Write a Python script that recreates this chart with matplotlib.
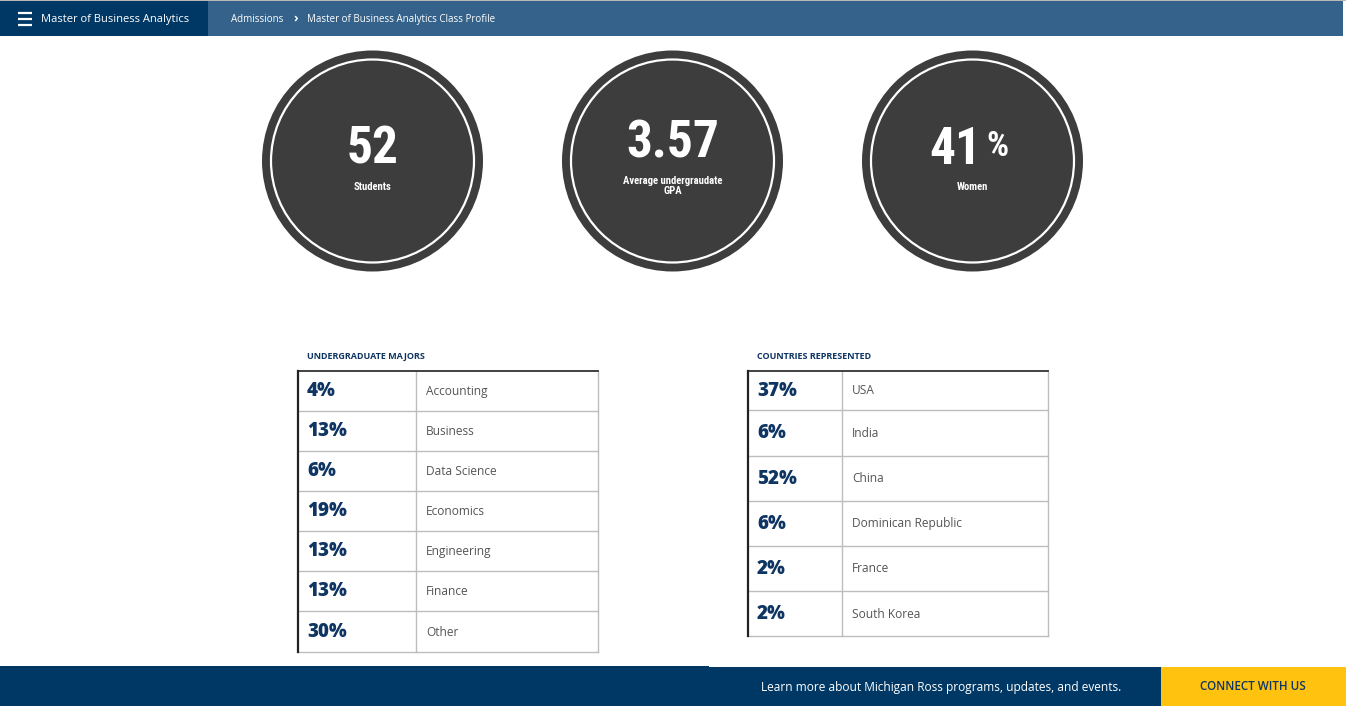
import matplotlib
matplotlib.use("Agg")
import matplotlib.pyplot as plt
from matplotlib.patches import Rectangle, Circle
from matplotlib import font_manager as fm

# ---------------- data ----------------
stat_values = ["52", "3.57", "41"]
stat_suffix = ["", "", "%"]
stat_labels = ["Students", "Average undergraudate\nGPA", "Women"]

majors_title = "UNDERGRADUATE MAJORS"
majors_pct = [4, 13, 6, 19, 13, 13, 30]
majors_names = ["Accounting", "Business", "Data Science", "Economics",
                "Engineering", "Finance", "Other"]

countries_title = "COUNTRIES REPRESENTED"
countries_pct = [37, 6, 52, 6, 2, 2]
countries_names = ["USA", "India", "China", "Dominican Republic", "France",
                   "South Korea"]

nav_title = "Master of Business Analytics"
breadcrumb = ["Admissions", "Master of Business Analytics Class Profile"]
footer_text = "Learn more about Michigan Ross programs, updates, and events."
footer_button = "CONNECT WITH US"

# ---------------- fonts ----------------
SANS = ["Open Sans", "DejaVu Sans"]


def narrow_font():
    """Pick a condensed bold font if one is installed."""
    names = {f.name for f in fm.fontManager.ttflist}
    for cand in ("Roboto Condensed", "Open Sans Condensed",
                 "Liberation Sans Narrow", "DejaVu Sans Condensed"):
        if cand in names:
            return dict(family=[cand, "DejaVu Sans"])
    for f in fm.fontManager.ttflist:
        if "condensed" in f.fname.lower() and "bold" in f.fname.lower():
            return dict(family=[f.name, "DejaVu Sans"], fontstretch=f.stretch)
    return dict(family=SANS)


NARROW = narrow_font()

# ---------------- style ----------------
W, H = 1346, 706
NAVY = "#003865"
NAV_LIGHT = "#34628a"
TEXT_NAVY = "#0f3563"
CIRCLE = "#3d3d3d"
GRID = "#bdbdbd"
YELLOW = "#ffc20e"

fig = plt.figure(figsize=(W / 100, H / 100), dpi=100)
ax = fig.add_axes([0, 0, 1, 1])
ax.set_xlim(0, W)
ax.set_ylim(H, 0)
ax.axis("off")

# ---------------- top bar ----------------
ax.add_patch(Rectangle((0, 0), W - 3, 36, color=NAV_LIGHT, lw=0))
ax.add_patch(Rectangle((0, 0), 208, 36, color=NAVY, lw=0))
ax.add_patch(Rectangle((0, 0), W, 1.2, color="#b8b8b8", lw=0))
for yy in (12.5, 18.5, 24.5):
    ax.plot([18, 32], [yy, yy], color="white", lw=1.6, solid_capstyle="butt")
ax.text(41, 19.5, nav_title, color="white", fontsize=8.0, family=SANS,
        va="center", ha="left")
ax.text(231, 19.5, breadcrumb[0], color="white", fontsize=7, family=SANS,
        va="center", ha="left")
ax.text(296, 18.5, "\u203a", color="white", fontsize=9, family=SANS,
        va="center", ha="center", fontweight="bold")
ax.text(307, 19.5, breadcrumb[1], color="white", fontsize=7, family=SANS,
        va="center", ha="left")

# ---------------- circles ----------------
centers_x = [372.5, 672.5, 972.5]
cy = 161
for cx, val, suf, lab in zip(centers_x, stat_values, stat_suffix, stat_labels):
    ax.add_patch(Circle((cx, cy), 110.5, color=CIRCLE, lw=0))
    ax.add_patch(Circle((cx, cy), 101.5, fill=False, ec="white", lw=1.6))
    two_line = "\n" in lab
    if suf:
        ax.text(cx - 17, 150, val, color="white", fontsize=37,
                fontweight="bold", ha="center", va="center", **NARROW)
        ax.text(cx + 24.5, 147, suf, color="white", fontsize=25,
                fontweight="bold", ha="center", va="center", **NARROW)
    else:
        ax.text(cx, 144 if two_line else 150, val, color="white",
                fontsize=37, fontweight="bold",
                ha="center", va="center", **NARROW)
    ax.text(cx, 186 if two_line else 187, lab, color="white", fontsize=7.7,
            fontweight="bold", ha="center", va="center", linespacing=0.95,
            **NARROW)


# ---------------- tables ----------------
def draw_table(x0, x_div, x1, y_edges, title, pcts, names):
    ax.text(x0 + 9, 356.5, title, color=TEXT_NAVY, fontsize=6.5,
            family=SANS, fontweight="bold", ha="left", va="center")
    top, bottom = y_edges[0], y_edges[-1]
    for y in y_edges[1:]:
        ax.plot([x0, x1], [y, y], color=GRID, lw=1.0)
    ax.plot([x_div, x_div], [top, bottom], color=GRID, lw=1.0)
    ax.plot([x1, x1], [top, bottom], color=GRID, lw=1.0)
    ax.plot([x0, x1], [top, top], color="#333333", lw=1.3)
    ax.plot([x0, x0], [top, bottom], color="#222222", lw=1.6)
    for i, (p, n) in enumerate(zip(pcts, names)):
        yc = (y_edges[i] + y_edges[i + 1]) / 2
        ax.text(x0 + 9, yc + 0.5, f"{p}%", color=TEXT_NAVY, fontsize=13.5,
                family=SANS, fontweight="heavy", ha="left", va="center")
        ax.text(x_div + 10, yc + 0.5, n, color="#555555", fontsize=8.6,
                family=SANS, ha="left", va="center")


majors_edges = [371, 411, 451, 491, 531, 571, 611, 652]
countries_edges = [371, 410, 456, 501, 546, 591, 636]
draw_table(298, 416, 598, majors_edges, majors_title, majors_pct, majors_names)
draw_table(748, 842, 1048, countries_edges, countries_title,
           countries_pct, countries_names)

# ---------------- footer ----------------
ax.add_patch(Rectangle((0, 666), 1161, 40, color=NAVY, lw=0))
ax.add_patch(Rectangle((709, 665), 452, 2, color="white", lw=0))
ax.add_patch(Rectangle((1161, 667), W - 1161, 39, color=YELLOW, lw=0))
ax.text(941, 687, footer_text, color="white", fontsize=8.6, family=SANS,
        ha="center", va="center")
ax.text(1253, 687, footer_button, color=TEXT_NAVY, fontsize=8.4,
        family=SANS, fontweight="semibold", ha="center", va="center")

fig.savefig("out.png", dpi=100)
